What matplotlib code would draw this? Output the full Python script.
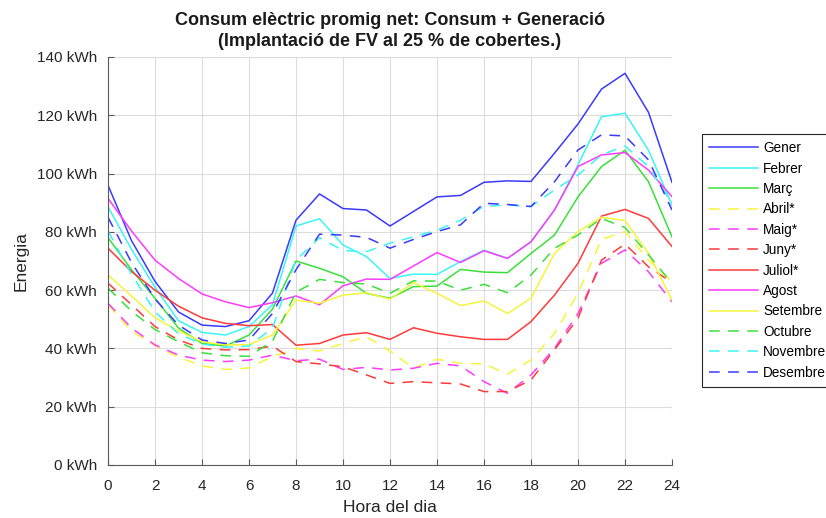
import numpy as np
import matplotlib
matplotlib.use('Agg')
import matplotlib.pyplot as plt

plt.rcParams['font.family'] = ['Liberation Sans', 'DejaVu Sans']

hores = list(range(25))

gener = [96, 77, 63, 52.5, 48, 47.5, 49.5, 59, 84, 93, 88, 87.5, 82, 87, 92, 92.5, 97, 97.5, 97.3, 107, 117, 129, 134.4, 121, 97]
febrer = [88.6, 74, 61, 49.5, 45.5, 44.6, 47.5, 55, 82, 84.5, 75.5, 71.5, 64, 65.5, 65.4, 69.8, 73.7, 70.9, 76.6, 87.5, 103, 119.5, 120.7, 108, 89.2]
marc = [78, 67, 57.2, 47, 41.7, 40.8, 44.6, 53.5, 70, 67.5, 64.6, 58.9, 57.2, 61.2, 61.4, 67.1, 66.2, 66, 72.6, 78.9, 92, 102.4, 108, 97.2, 78.3]
abril = [55, 46, 41, 37, 34, 32.8, 33.3, 37.2, 40, 39.1, 41.7, 44, 39.1, 33.2, 36.3, 34.9, 34.7, 31.2, 36, 45.2, 58.9, 77.4, 80.1, 70.3, 63]
maig = [55.5, 47, 41.2, 37.7, 36, 35.5, 36, 37.7, 35.8, 36.3, 32.8, 33.5, 32.6, 33.2, 34.9, 34, 28.6, 24.6, 30.9, 40, 52, 69.2, 73.8, 66.3, 56]
juny = [62.4, 55, 47.5, 42.9, 40, 39.5, 39.6, 40.8, 35.5, 34.7, 33.7, 30.9, 28, 28.6, 28.2, 27.8, 25.2, 25.2, 29.2, 39.5, 50.4, 70.3, 75.8, 68, 62.6]
juliol = [74.4, 66.4, 60, 54.5, 50.5, 48.6, 47.8, 48.2, 41.1, 41.7, 44.6, 45.4, 43.1, 47.1, 45.2, 44, 43.1, 43.1, 49.2, 58.3, 69.2, 85.4, 87.7, 84.6, 75]
agost = [91.5, 80.3, 70.3, 64, 58.7, 56, 54, 55.7, 58, 55, 61.5, 63.8, 63.7, 68.3, 72.9, 69.5, 73.5, 70.9, 76.6, 87.5, 102.4, 106.4, 107.2, 101.2, 92.1]
setembre = [65.2, 58, 50.5, 46, 42.3, 41.2, 41.3, 44.6, 56.6, 55.5, 58.3, 59.1, 56.9, 62.6, 58.9, 54.7, 56.3, 52, 57.2, 72.6, 80.1, 85, 83.9, 72.6, 56.6]
octubre = [60.7, 52.8, 46.5, 42.3, 38.5, 37.5, 37.3, 42.5, 59.3, 63.7, 62.6, 62.1, 58.9, 63.2, 63.1, 60, 62, 59.1, 65.2, 74.4, 78.9, 84.6, 81.5, 72.1, 62.3]
novembre = [80.3, 65.5, 52.6, 45, 41.5, 40.4, 40.8, 47, 70.3, 78, 73.6, 73.2, 76.1, 78.3, 80.6, 84, 88.8, 89.2, 88.7, 94.4, 99.5, 106.4, 109.5, 102.4, 89.8]
desembre = [85, 69.5, 57, 48, 42.9, 41.7, 42.9, 52, 67, 79.2, 78.9, 78.1, 74.4, 77.4, 80.1, 82.4, 89.8, 89.4, 88.7, 97.2, 108.1, 113.3, 112.9, 104.7, 87.5]

mesos = ['Gener', 'Febrer', 'Març', 'Abril*', 'Maig*', 'Juny*', 'Juliol*',
         'Agost', 'Setembre', 'Octubre', 'Novembre', 'Desembre']
series = [gener, febrer, marc, abril, maig, juny, juliol,
          agost, setembre, octubre, novembre, desembre]
colors = ['#3a3aff', '#3af5f5', '#3ae03a', '#f5f53a', '#ff3aff', '#ff3a3a', '#ff3a3a',
          '#ff3aff', '#f5f53a', '#3ae03a', '#3af5f5', '#3a3aff']
dashed = [False, False, False, True, True, True, False,
          False, False, True, True, True]

fig = plt.figure(figsize=(8.26, 5.18), dpi=100)
ax = fig.add_axes([108/826, 53/518, 564/826, 408/518])

for nom, vals, c, d in zip(mesos, series, colors, dashed):
    if d:
        ax.plot(hores, vals, color=c, lw=1.1, dashes=(7, 5.5), label=nom)
    else:
        ax.plot(hores, vals, color=c, lw=1.1, label=nom)

ax.set_xlim(0, 24)
ax.set_ylim(0, 140)
ax.set_xticks(range(0, 25, 2))
ax.set_yticks(range(0, 141, 20))
ax.set_yticklabels([f'{v} kWh' for v in range(0, 141, 20)])
ax.grid(True, color='#dcdcdc', lw=0.8)
ax.set_axisbelow(True)
for s in ['top', 'right']:
    ax.spines[s].set_visible(False)
for s in ['left', 'bottom']:
    ax.spines[s].set_color('#5a5a5a')
ax.tick_params(direction='in', length=4, colors='#5a5a5a', labelcolor='#262626', labelsize=11)
ax.tick_params(axis='y', pad=8)
ax.tick_params(axis='x', pad=10)

ax.set_xlabel('Hora del dia', fontsize=12.5, color='#262626', labelpad=5)
ax.set_ylabel('Energia', fontsize=12.5, color='#262626', labelpad=6)
ax.set_title('Consum elèctric promig net: Consum + Generació\n(Implantació de FV al 25 % de cobertes.)',
             fontsize=13, fontweight='bold', color='#1a1a1a', pad=8, linespacing=1.3)

leg = ax.legend(loc='upper left', bbox_to_anchor=(1.053, 0.812), borderaxespad=0,
                fontsize=9.8, handlelength=3.6, handletextpad=0.35, labelspacing=0.47,
                borderpad=0.55, fancybox=False, framealpha=1, edgecolor='#262626')
leg.get_frame().set_linewidth(0.8)

fig.savefig('out.png', dpi=100)
